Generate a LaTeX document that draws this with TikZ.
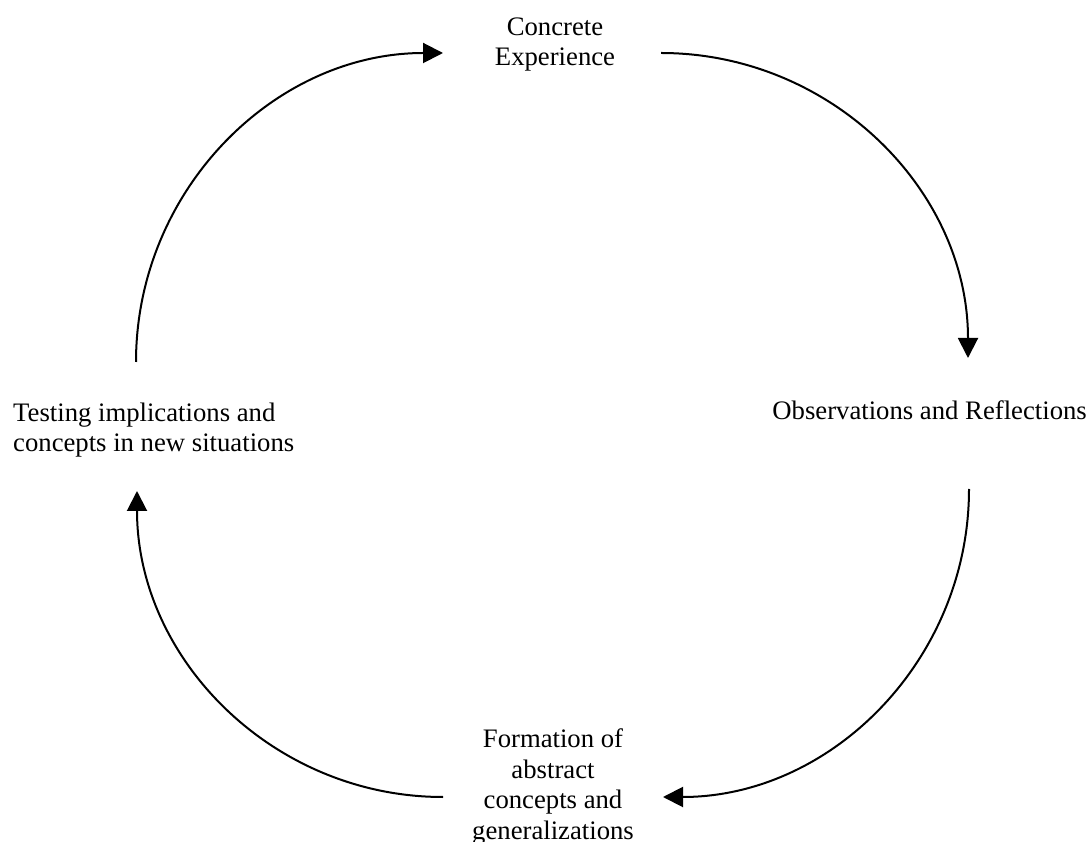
\documentclass[tikz,border=0pt]{standalone}
\usepackage{fontspec}
\setmainfont{Liberation Serif}
\usetikzlibrary{arrows.meta}
\tikzset{
  lbl/.style={inner sep=0pt, font=\fontsize{26.7}{30.5}\selectfont},
  arr/.style={line width=2pt, -{Triangle[length=20pt,width=20pt]}},
}
\begin{document}
\begin{tikzpicture}[x=1pt,y=1pt]
\useasboundingbox (0,0) rectangle (1092,841);
% labels (base anchor = baseline of the last line)
\node[lbl, align=center, anchor=base] (ce) at (555,775) {Concrete\\Experience};
\node[lbl, anchor=base east] (or) at (1087,421) {Observations and Reflections};
\node[lbl, align=center, anchor=base] (fa) at (553,2) {Formation of\\abstract\\concepts and\\generalizations};
\node[lbl, align=left, anchor=base west] (ti) at (13,389) {Testing implications and\\concepts in new situations};
% arc end points
\coordinate (s1) at (136,479);
\coordinate (s2) at (661,788);
\coordinate (s3) at (969,352);
\coordinate (s4) at (443,44);
% arcs
\draw[arr] (s1) arc[start angle=180, end angle=90, x radius=307, y radius=309];
\draw[arr] (s2) arc[start angle=90, end angle=0, x radius=307, y radius=305];
\draw[arr] (s3) arc[start angle=0, end angle=-90, x radius=306, y radius=308];
\draw[arr] (s4) arc[start angle=270, end angle=180, x radius=306, y radius=306];
\end{tikzpicture}
\end{document}
